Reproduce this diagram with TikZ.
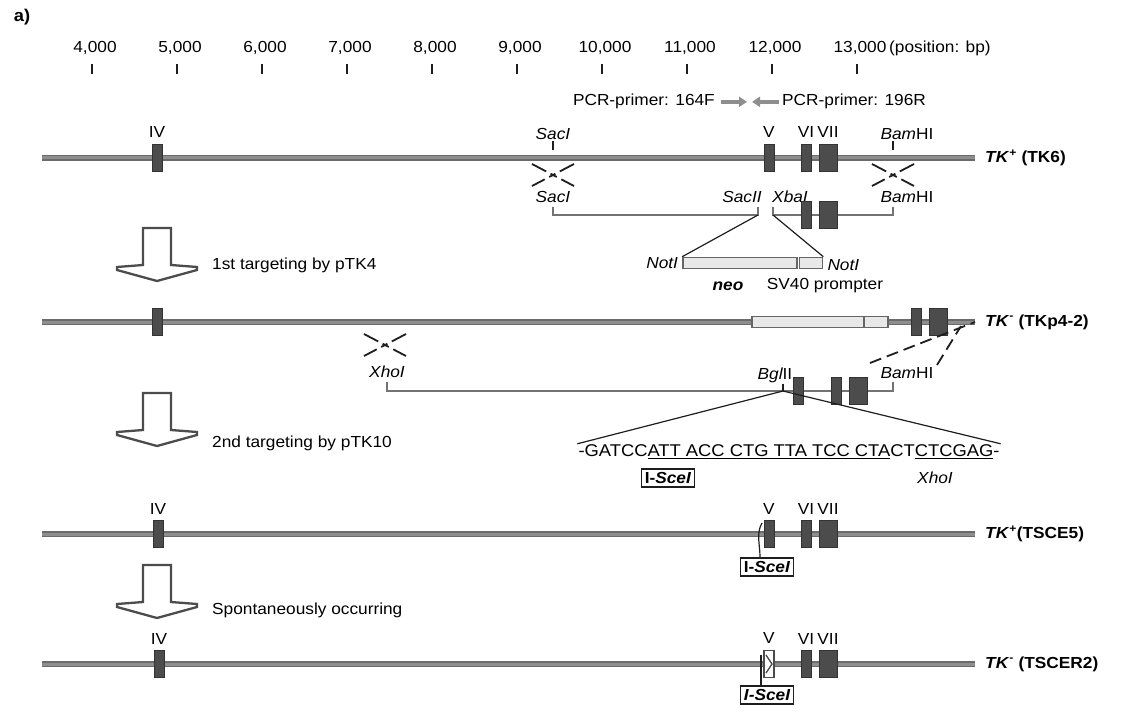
\documentclass[tikz,border=0pt]{standalone}
\usepackage{fontspec}
\setmainfont{Liberation Sans}[FakeStretch=1.08]
\usepackage{tikz}
\usetikzlibrary{arrows.meta,calc,positioning}
\definecolor{ChromGrey}{HTML}{8E8E8E}
\definecolor{ExonGrey}{HTML}{4C4C4C}
\definecolor{Ink}{HTML}{1E1E1E}

\begin{document}
\begin{tikzpicture}[x=1pt,y=-1pt,
  chrom/.style={line width=5.5pt,draw=black!58,postaction={draw=ChromGrey,line width=3pt}},
  vecline/.style={line width=2.2pt,draw=black!55},
  exon/.style={fill=ExonGrey,draw=black!80,line width=0.6pt,inner sep=0pt,minimum width=10pt,minimum height=27pt},
  bigexon/.style={exon,minimum width=18pt},
  cassette/.style={fill=gray!18,draw=black!60,line width=1.6pt,inner sep=0pt,minimum height=11pt},
  lab/.style={font=\fontsize{16}{18}\selectfont,inner sep=1pt},
  enz/.style={font=\fontsize{16}{18}\selectfont\itshape,inner sep=1pt},
  tklab/.style={font=\fontsize{16}{18}\selectfont\bfseries,anchor=west,inner sep=0pt},
  cross/.style={line width=1.8pt,draw=Ink,dash pattern=on 16pt off 5pt on 7pt off 5pt on 16pt off 0pt},
  longdash/.style={line width=1.8pt,draw=Ink,dash pattern=on 12pt off 6pt},
  tick/.style={line width=1.6pt,draw=Ink},
  thin/.style={line width=1.2pt,draw=Ink},
  primer/.style={line width=3.4pt,draw=ChromGrey,-{Triangle[length=8pt,width=10pt]}},
  scebox/.style={draw=Ink,line width=1.4pt,inner sep=3.5pt,font=\fontsize{16}{18}\selectfont\bfseries},
  seq/.style={font=\fontsize{17}{19}\selectfont,inner sep=1pt},
  recomb/.pic={\draw[cross] (-21,-11) -- (21,11); \draw[cross] (21,-11) -- (-21,11);},
  blockarrow/.pic={\draw[line width=2.3pt,draw=ExonGrey,fill=white,line join=miter]
    (-14,0) -- (14,0) -- (14,37) -- (40,39) -- (40,42) -- (0,53) -- (-40,42) -- (-40,39) -- (-14,37) -- cycle;}
]
\useasboundingbox (0,0) rectangle (1144,714);

\node[font=\fontsize{17}{19}\selectfont\bfseries] (panel) at (22,17) {a)};

% position scale
\foreach \k in {4,...,13}{
  \node[lab,anchor=base] (num\k) at ({95+(\k-4)*85},53) {\k{,}000};
  \draw[tick] ({92+(\k-4)*85},64) -- ++(0,10);
}
\node[lab,anchor=base west] (posbp) at (888,53) {(position: bp)};

\node[lab,anchor=base east] (p164) at (716,106) {PCR-primer: 164F};
\node[lab,anchor=base west] (p196) at (781,106) {PCR-primer: 196R};
\draw[primer] ([xshift=5pt]p164.east) -- ([xshift=-34pt]p196.west);
\draw[primer] ([xshift=-2pt]p196.west) -- ([xshift=-29pt]p196.west);

% TK6
\draw[chrom] (42,158) coordinate (r1w) -- (975,158) coordinate (r1e);
\node[exon] (r1iv) at (157,158) {};
\node[exon] (r1v) at (769,158) {};
\node[exon] (r1vi) at (806,158) {};
\node[bigexon] (r1vii) at (828,158) {};
\node[lab,above=5pt of r1iv] {IV};
\node[lab,above=5pt of r1v] {V};
\node[lab,above=5pt of r1vi] {VI};
\node[lab,above=5pt of r1vii] {VII};
\node[tklab] (tk6) at (985,158) {\textit{TK}\textsuperscript{+} (TK6)};
\node[enz] (sacatop) at (553,134) {SacI};
\node[enz] (bamtop) at (907,134) {\textit{Bam}\upshape HI};
\draw[tick] (sacatop.south) -- ++(0,9);
\draw[tick] (bamtop.south -| 893,0) -- ++(0,9);
\pic at (553,175) {recomb};
\pic at (893,175) {recomb};

% pTK4
\node[enz] (sacalow) at (553,197) {SacI};
\node[enz] (sacb) at (742,197) {SacII};
\node[enz] (xba) at (790,197) {XbaI};
\node[enz] (bamlow) at (907,197) {\textit{Bam}\upshape HI};
\draw[vecline] (553,207) -- (553,215) -- (758,215) coordinate (cutsac) -- (758,207);
\draw[vecline] (773,207) -- (773,215) coordinate (cutxba) -- (893,215) -- (893,207);
\node[exon] (v1vi) at (806,215) {};
\node[bigexon] (v1vii) at (828,215) {};
\node[cassette,minimum width=114pt] (neoa) at (740,263) {};
\node[cassette,minimum width=23pt] (sva) at (811,263) {};
\draw[thin] (cutsac) -- (neoa.north west);
\draw[thin] (cutxba) -- (sva.north east);
\node[enz,left=3pt of neoa] (nota) {NotI};
\node[enz,right=3pt of sva,yshift=-2pt] (notb) {NotI};
\node[lab,font=\fontsize{16}{18}\selectfont\bfseries\itshape] (neolab) at (728,286) {neo};
\node[lab] (svlab) at (825,286) {SV40 prompter};

\pic at (157,228) {blockarrow};
\node[lab,anchor=west] (step1) at (211,265) {1st targeting by pTK4};

% TKp4-2
\draw[chrom] (42,322) coordinate (r2w) -- (975,322) coordinate (r2e);
\node[exon] (r2iv) at (157,322) {};
\node[cassette,minimum width=112pt] (neob) at (808,322) {};
\node[cassette,minimum width=24pt] (svb) at (876,322) {};
\node[exon] (r2vi) at (916,322) {};
\node[bigexon] (r2vii) at (938,322) {};
\node[tklab] (tkp4) at (985,322) {\textit{TK}\textsuperscript{-} (TKp4-2)};
\pic at (385,345) {recomb};
\draw[longdash] (870,363) -- (r2e);
\draw[longdash] (937,365) -- (961,326);

% pTK10
\node[enz] (xhoa) at (387,372) {XhoI};
\node[enz] (bgl) at (775,375) {\textit{Bgl}\upshape II};
\node[enz] (bamc) at (907,373) {\textit{Bam}\upshape HI};
\draw[vecline] (387,382) -- (387,391) -- (893,391) -- (893,382);
\coordinate (cutbgl) at (783,391);
\draw[thin] (bgl.south -| cutbgl) -- (cutbgl);
\node[exon] (v2v) at (798,391) {};
\node[exon] (v2vi) at (836,391) {};
\node[bigexon] (v2vii) at (858,391) {};
\node[seq] (seqline) at (789,452) {-GATCC\underline{ATT ACC CTG TTA TCC CTA}CT\underline{CTCGAG}-};
\draw[thin] (cutbgl) -- (seqline.north west);
\draw[thin] (cutbgl) -- (seqline.north east);
\node[scebox] (scea) at (668,478) {I-\textit{SceI}};
\node[enz] (xhob) at (935,478) {XhoI};

\pic at (157,393) {blockarrow};
\node[lab,anchor=west] (step2) at (211,443) {2nd targeting by pTK10};

% TSCE5
\draw[chrom] (42,534) coordinate (r4w) -- (975,534) coordinate (r4e);
\node[exon] (r4iv) at (158,534) {};
\node[exon] (r4v) at (769,534) {};
\node[exon] (r4vi) at (806,534) {};
\node[bigexon] (r4vii) at (828,534) {};
\node[lab,above=5pt of r4iv] {IV};
\node[lab,above=5pt of r4v] {V};
\node[lab,above=5pt of r4vi] {VI};
\node[lab,above=5pt of r4vii] {VII};
\node[tklab] (tkse5) at (985,534) {\textit{TK}\textsuperscript{+}(TSCE5)};
\node[scebox] (sceb) at (767,567) {I-\textit{SceI}};
\coordinate (cut4) at (762,523);
\draw[thin] (cut4) .. controls (756,533) and (760,545) .. ([xshift=-7pt]sceb.north);

\pic at (157,565) {blockarrow};
\node[lab,anchor=west] (step3) at (211,610) {Spontaneously occurring};

% TSCER2
\draw[chrom] (42,664) coordinate (r5w) -- (975,664) coordinate (r5e);
\node[exon] (r5iv) at (159,664) {};
\node[exon,fill=white,draw=ExonGrey,line width=1.2pt] (r5v) at (769,664) {};
\node[exon] (r5vi) at (806,664) {};
\node[bigexon] (r5vii) at (828,664) {};
\node[lab,above=5pt of r5iv] {IV};
\node[lab,above=5pt of r5v] {V};
\node[lab,above=5pt of r5vi] {VI};
\node[lab,above=5pt of r5vii] {VII};
\draw[ExonGrey,line width=1.3pt] (766,655) -- (772,664) -- (766,673);
\node[tklab] (tkser2) at (985,664) {\textit{TK}\textsuperscript{-} (TSCER2)};
\node[scebox,font=\fontsize{16}{18}\selectfont\bfseries\itshape] (scec) at (767,695) {I-SceI};
\coordinate (cut5) at (761,655);
\draw[thin] (cut5) -- ([xshift=-6pt]scec.north);
\end{tikzpicture}
\end{document}
